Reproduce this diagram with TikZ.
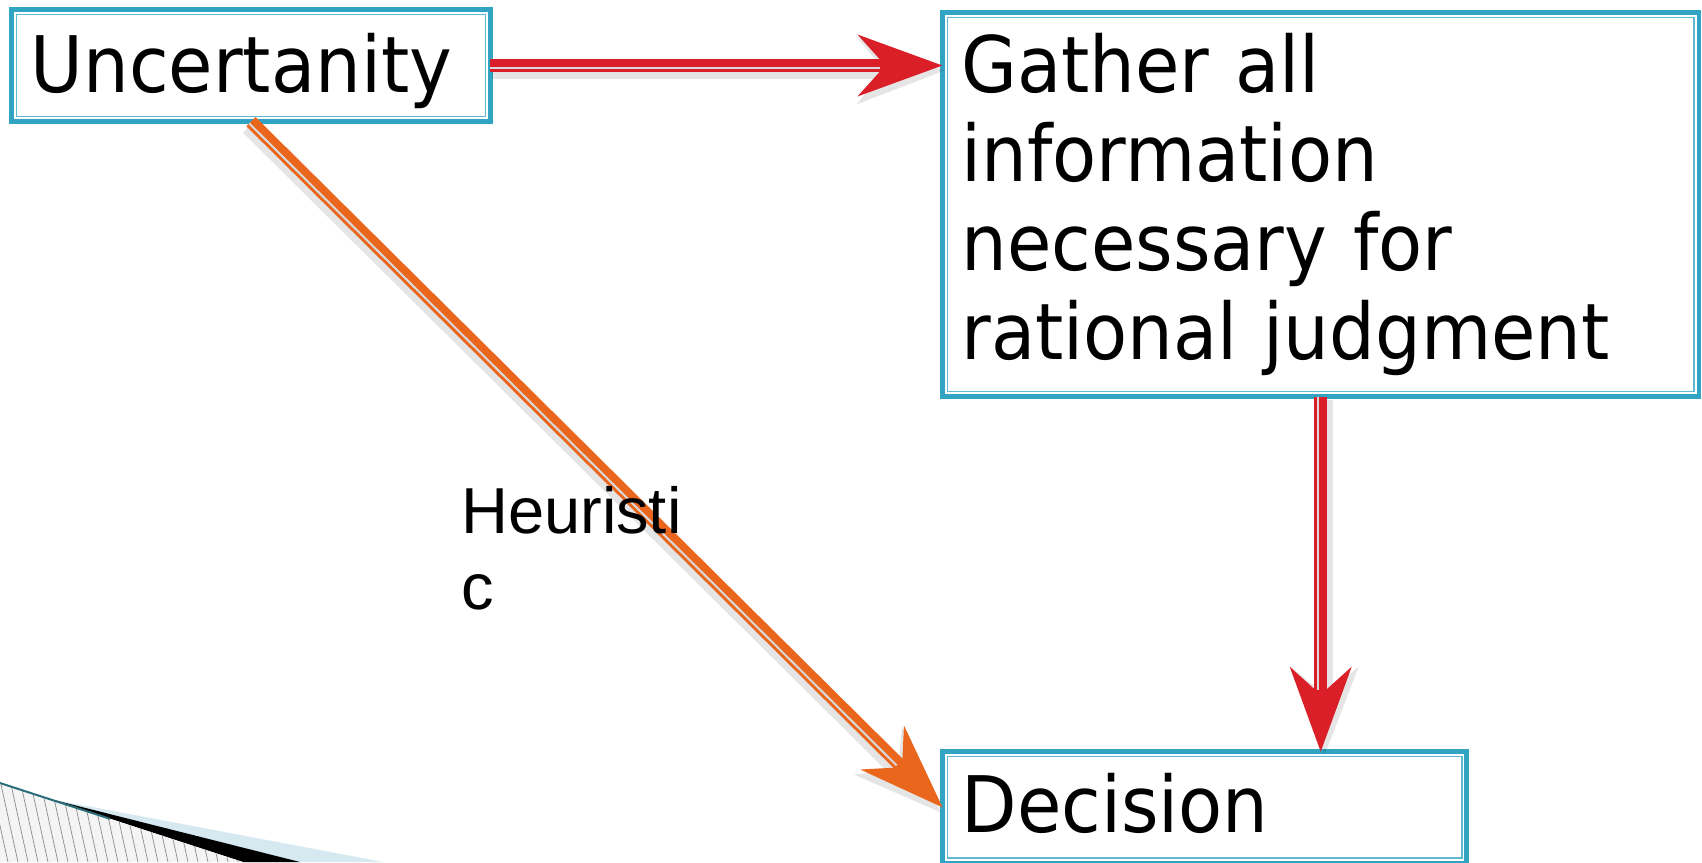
\documentclass[tikz,border=0pt]{standalone}
\usepackage{fontspec}
\newfontfamily\boxfont{DejaVu Sans}[FakeStretch=0.925]
\newfontfamily\heurfont{Liberation Sans}
\usetikzlibrary{arrows.meta}
\definecolor{boxteal}{HTML}{31A3C3}
\definecolor{innerteal}{HTML}{5DBAD2}
\definecolor{arrred}{HTML}{DA1F28}
\definecolor{arrorange}{HTML}{EA661C}
\definecolor{hatchbg}{HTML}{F4F4F4}
\definecolor{lightblue}{HTML}{D6E9F1}
\definecolor{darkteal}{HTML}{2C6E77}
\begin{document}
\begin{tikzpicture}[x=1pt,y=-1pt,
  box/.style={draw=boxteal, line width=4.7pt, fill=white, rectangle, outer sep=0pt,
    inner ysep=0pt, align=left, font=\boxfont\fontsize{78}{89}\selectfont},
  innerline/.style={draw=innerteal, line width=1.5pt},
  shaft/.style={line width=13pt, -{Stealth[length=85pt,width=62pt,inset=28pt,line width=0pt]}},
  gapline/.style={draw=black!15, line width=2pt, shorten >=62pt},
  shadowline/.style={draw=black, fill=black, opacity=0.10, line width=17pt,
    -{Stealth[length=88pt,width=68pt,inset=28pt,line width=0pt]}},
  heurtext/.style={font=\heurfont\fontsize{65}{76}\selectfont, align=left,
    inner sep=0pt, anchor=north west, text width=240pt}
]
\useasboundingbox (0,0) rectangle (1702,862);
\fill[white] (0,0) rectangle (1702,862);

% corner decoration
\fill[lightblue] (50,799) -- (383,862) -- (0,862) -- cycle;
\fill[black] (50,799) -- (300,862) -- (243,862) -- cycle;
\begin{scope}
  \clip (0,783) -- (243,862) -- (0,862) -- cycle;
  \fill[hatchbg] (0,780) rectangle (250,862);
  \foreach \i in {-40,-30,...,250} \draw[black!45, line width=0.7pt] (\i,780) -- ++(18,82);
\end{scope}
\draw[darkteal, line width=2pt] (0,783) -- (110,818.8);

% boxes
\node[box, minimum width=478.6pt, minimum height=112.4pt, text width=440.6pt,
  inner xsep=19pt, text height=53pt, text depth=0pt] (U) at (251,65.5) {Uncertanity};
\node[box, minimum width=756.6pt, minimum height=384.2pt, text width=718.6pt,
  inner xsep=19pt] (G) at (1320.7,204.4) {Gather all\\information\\necessary for\\rational judgment};
\node[box, minimum width=524.3pt, minimum height=111.3pt, text width=486.3pt,
  inner xsep=19pt, text height=50pt, text depth=0pt] (D) at (1204.65,807.35) {Decision};
\foreach \n in {U,G,D}
  \draw[innerline] ([shift={(5,5)}]\n.north west) rectangle ([shift={(-5,-5)}]\n.south east);

% shadows
\draw[shadowline, transform canvas={shift={(2,5)}}] (U.east) -- (U.east -| G.west);
\draw[shadowline, transform canvas={shift={(4,3)}}] (G.south) -- (G.south |- D.north);
\draw[shadowline, transform canvas={shift={(-2,5)}}] (U.south) -- (D.west);

% connectors
\draw[shaft, arrred] (U.east) -- (U.east -| G.west);
\draw[gapline, transform canvas={shift={(0,2.5)}}] (U.east) -- (U.east -| G.west);
\draw[shaft, arrred] (G.south) -- (G.south |- D.north);
\draw[gapline, transform canvas={shift={(-2.5,0)}}] (G.south) -- (G.south |- D.north);
\draw[shaft, arrorange] (U.south) -- (D.west);
\draw[gapline, transform canvas={shift={(-1.77,1.77)}}] (U.south) -- (D.west);

\node[heurtext] (H) at (461,486) {Heuristi\\c};
\end{tikzpicture}
\end{document}
